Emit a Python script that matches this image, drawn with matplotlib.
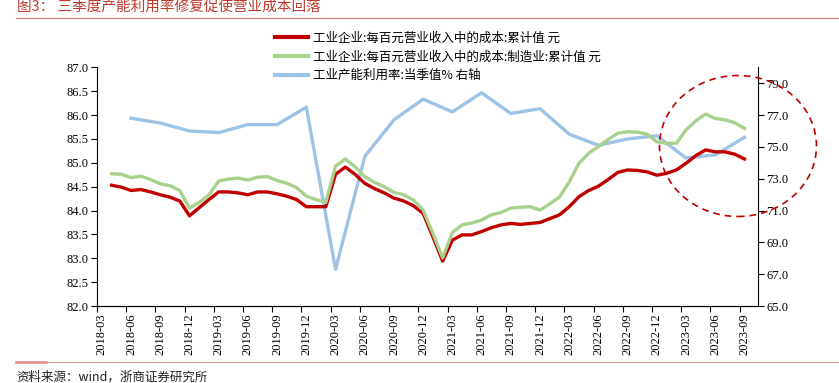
import numpy as np
import pandas as pd
import matplotlib
matplotlib.use("Agg")
import matplotlib.pyplot as plt
from matplotlib.patches import Ellipse

# ─────────────────────────────────────────────────────────────────────────────
# DATA  (monthly categories 2018-03 .. 2023-09)
# ─────────────────────────────────────────────────────────────────────────────
months = pd.period_range("2018-03", "2023-09", freq="M").strftime("%Y-%m").tolist()

cost_all = [np.nan,
            84.53, 84.49, 84.42, 84.44, 84.39, 84.33, 84.28, 84.20, 83.89, 84.06,
            84.23, 84.39, 84.39, 84.37, 84.33, 84.39, 84.39, 84.35, 84.30, 84.23,
            84.08, 84.08, 84.08, 84.76, 84.91, 84.76, 84.57, 84.46, 84.37, 84.26,
            84.20, 84.10, 83.94, 83.45, 82.94, 83.38, 83.49, 83.49, 83.56, 83.64,
            83.70, 83.73, 83.71, 83.73, 83.75, 83.83, 83.91, 84.08, 84.29, 84.42,
            84.51, 84.65, 84.80, 84.85, 84.84, 84.81, 84.74, 84.78, 84.85, 84.99,
            85.15, 85.27, 85.23, 85.23, 85.18, 85.08]

cost_mfg = [np.nan,
            84.77, 84.76, 84.69, 84.72, 84.65, 84.56, 84.52, 84.42, 84.05, 84.17,
            84.33, 84.62, 84.66, 84.68, 84.64, 84.70, 84.71, 84.63, 84.57, 84.48,
            84.30, 84.23, 84.17, 84.93, 85.08, 84.92, 84.71, 84.59, 84.50, 84.38,
            84.33, 84.22, 84.01, 83.52, 83.01, 83.54, 83.70, 83.74, 83.80, 83.91,
            83.96, 84.05, 84.07, 84.08, 84.01, 84.14, 84.28, 84.60, 84.99, 85.20,
            85.34, 85.49, 85.62, 85.65, 85.64, 85.60, 85.44, 85.41, 85.41, 85.69,
            85.88, 86.02, 85.93, 85.90, 85.84, 85.72]

util_months = ["2018-06", "2018-09", "2018-12", "2019-03", "2019-06", "2019-09",
               "2019-12", "2020-03", "2020-06", "2020-09", "2020-12", "2021-03",
               "2021-06", "2021-09", "2021-12", "2022-03", "2022-06", "2022-09",
               "2022-12", "2023-03", "2023-06", "2023-09"]
util_rate = [76.8, 76.5, 76.0, 75.9, 76.4, 76.4, 77.5, 67.3, 74.4, 76.7, 78.0,
             77.2, 78.4, 77.1, 77.4, 75.8, 75.1, 75.5, 75.7, 74.3, 74.5, 75.6]

LABELS = ["工业企业:每百元营业收入中的成本:累计值 元",
          "工业企业:每百元营业收入中的成本:制造业:累计值 元",
          "工业产能利用率:当季值% 右轴"]
COLORS = ["#C00000", "#A9D18E", "#9DC3E6"]

CJK   = ["Noto Sans CJK SC", "DejaVu Sans"]
SERIF = "Liberation Serif"

# ─────────────────────────────────────────────────────────────────────────────
# PLOT
# ─────────────────────────────────────────────────────────────────────────────
fig = plt.figure(figsize=(8.39, 3.83), dpi=100)
ax = fig.add_axes([0.1156, 0.201, 0.788, 0.6232])
ax2 = ax.twinx()

x = np.arange(len(months))
x_util = [months.index(m) for m in util_months]

l1, = ax.plot(x, cost_all, color=COLORS[0], lw=2.4)
l2, = ax.plot(x, cost_mfg, color=COLORS[1], lw=2.4)
l3, = ax2.plot(x_util, util_rate, color=COLORS[2], lw=2.4)
ax2.set_zorder(ax.get_zorder() - 1)
ax.patch.set_visible(False)

ax.set_xlim(-0.5, len(months) + 0.4)
ax.set_ylim(82.0, 87.0)
ax2.set_ylim(65.0, 80.0)
ax.set_yticks(np.arange(82.0, 87.01, 0.5))
ax2.set_yticks(np.arange(65.0, 79.01, 2.0))
ax.yaxis.set_major_formatter(matplotlib.ticker.FormatStrFormatter("%.1f"))
ax2.yaxis.set_major_formatter(matplotlib.ticker.FormatStrFormatter("%.1f"))

tick_pos = x[::3]
ax.set_xticks(tick_pos)
ax.set_xticklabels(months[::3], rotation=90, fontfamily=SERIF, fontsize=9)
ax.tick_params(axis="x", length=0, pad=5)
ax.set_xticks(tick_pos - 0.5, minor=True)
ax.tick_params(axis="x", which="minor", length=4, width=0.8)
ax.tick_params(axis="y", length=4, width=0.8, pad=2)
ax2.tick_params(axis="y", length=4, width=0.8, pad=2)
for lab in ax.get_yticklabels() + ax2.get_yticklabels():
    lab.set_fontfamily(SERIF)
    lab.set_fontsize(9)

for a in (ax, ax2):
    a.spines["top"].set_visible(False)
    for s in ("left", "right", "bottom"):
        a.spines[s].set_linewidth(0.8)
ax.spines["right"].set_visible(False)
ax2.spines["left"].set_visible(False)

leg = fig.legend([l1, l2, l3], LABELS, loc="upper left",
                 bbox_to_anchor=(0.322, 0.93), frameon=False,
                 prop={"family": CJK, "size": 9}, handlelength=2.6,
                 handletextpad=0.4, labelspacing=0.45, borderaxespad=0)
for h in leg.legend_handles:
    h.set_linewidth(3)

# dashed highlight circle
fig.patches.append(Ellipse((0.8796, 0.6188), 0.1871, 0.3681,
                           transform=fig.transFigure, fill=False,
                           edgecolor="#C00000", lw=1.2, ls=(0, (4, 3))))

# header / footer
fig.text(0.02, 0.997, "图3： 三季度产能利用率修复促使营业成本回落",
         family=CJK, fontsize=10.5, color="#C0392B", va="top", ha="left")
fig.add_artist(plt.Line2D([0.019, 1.0], [0.954, 0.954], transform=fig.transFigure,
                          color="#E08A8A", lw=1.0))
fig.add_artist(plt.Line2D([0.019, 1.0], [0.055, 0.055], transform=fig.transFigure,
                          color="#E8A0A0", lw=0.8))
fig.add_artist(plt.Line2D([0.019, 0.055], [0.055, 0.055], transform=fig.transFigure,
                          color="#E08A8A", lw=1.8))
fig.text(0.019, 0.016, "资料来源：wind，浙商证券研究所",
         family=CJK, fontsize=9, color="#222222", va="center", ha="left")

fig.savefig("out.png", dpi=100)
